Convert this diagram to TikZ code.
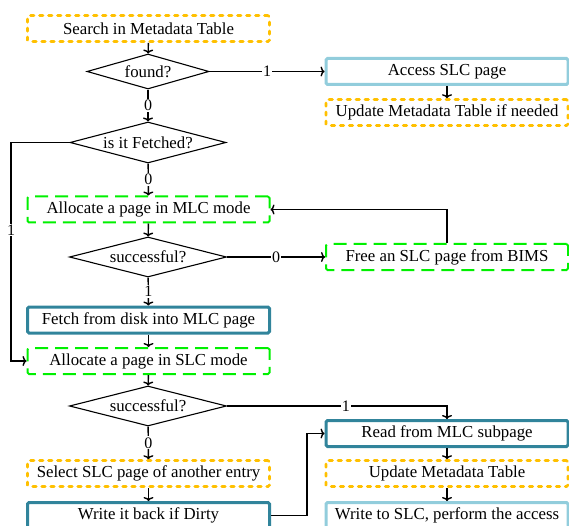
\documentclass[tikz,border=0pt]{standalone}
\usepackage{fontspec}
\setmainfont{Liberation Serif}
\usetikzlibrary{shapes.geometric,arrows.meta}
\definecolor{orng}{HTML}{FFC000}
\definecolor{lgreen}{HTML}{00F000}
\definecolor{teal2}{HTML}{31849B}
\definecolor{lblue}{HTML}{92CDDC}
\tikzset{
  base/.style={rectangle, rounded corners=1.5pt, minimum width=242pt, minimum height=26pt, inner sep=0pt, font=\fontsize{16.8}{18}\selectfont},
  orbox/.style={base, draw=orng, line width=2.6pt, dash pattern=on 3.5pt off 5.5pt, line cap=round},
  grbox/.style={base, draw=lgreen, line width=2pt, dash pattern=on 13pt off 7pt},
  tlbox/.style={base, draw=teal2, line width=3pt},
  lbbox/.style={base, draw=lblue, line width=3pt},
  dia/.style={diamond, draw, line width=1.1pt, inner sep=0pt, font=\fontsize{16.8}{18}\selectfont},
  arr/.style={-{To[length=4pt,width=10pt]}, line width=1.4pt},
  lab/.style={fill=white, inner sep=1pt, font=\fontsize{16}{18}\selectfont},
}
\begin{document}
\begin{tikzpicture}[x=1pt,y=-1pt]
\useasboundingbox (0,0) rectangle (569,526);
\clip (0,0) rectangle (569,526);
\node[orbox] (search) at (148.5,28.5) {Search in Metadata Table};
\node[dia, minimum width=122pt, minimum height=35pt, aspect=3.5] (found) at (148,71.5) {found?};
\node[lbbox] (access) at (447,71.5) {Access SLC page};
\node[orbox] (upd1) at (447,112.5) {Update Metadata Table if needed};
\node[dia, minimum width=156pt, minimum height=41pt, aspect=3.8] (fetched) at (148,142.5) {is it Fetched?};
\node[grbox] (allocmlc) at (148.5,209.5) {Allocate a page in MLC mode};
\node[dia, minimum width=157pt, minimum height=40pt, aspect=3.9] (succ1) at (148,257) {successful?};
\node[grbox] (free) at (447,257) {Free an SLC page from BIMS};
\node[tlbox] (fetch) at (148.5,320) {Fetch from disk into MLC page};
\node[grbox] (allocslc) at (148.5,361) {Allocate a page in SLC mode};
\node[dia, minimum width=157pt, minimum height=40pt, aspect=3.9] (succ2) at (148,406) {successful?};
\node[orbox] (select) at (148.5,473.5) {Select SLC page of another entry};
\node[tlbox] (wback) at (148.5,515.5) {Write it back if Dirty};
\node[tlbox] (read) at (447,433.5) {Read from MLC subpage};
\node[orbox] (upd2) at (447,473.5) {Update Metadata Table};
\node[lbbox] (wslc) at (447,515.5) {Write to SLC, perform the access};
\coordinate (lft) at (11,142.5);
\coordinate (lft2) at (11,361);
\coordinate (mid) at (307,515.5);

\draw[arr] (search) -- (found);
\draw[arr] (found) -- node[lab] {1} (access);
\draw[arr] (access) -- (upd1);
\draw[arr] (found) -- node[lab] {0} (fetched);
\draw[arr] (fetched.west) -- (lft) -- node[lab, pos=0.4] {1} (lft2) -- (allocslc.west);
\draw[arr] (fetched) -- node[lab] {0} (allocmlc);
\draw[arr] (allocmlc) -- (succ1);
\draw[arr] (succ1) -- node[lab] {0} (free);
\draw[arr] (free.north) |- (allocmlc.east);
\draw[arr] (succ1) -- node[lab] {1} (fetch);
\draw[arr] (fetch) -- (allocslc);
\draw[arr] (allocslc) -- (succ2);
\draw[arr] (succ2.east) -| node[lab, pos=0.27] {1} (read.north);
\draw[arr] (succ2) -- node[lab] {0} (select);
\draw[arr] (select) -- (wback);
\draw[arr] (wback.east) -- (mid) |- (read.west);
\draw[arr] (read) -- (upd2);
\draw[arr] (upd2) -- (wslc);
\end{tikzpicture}
\end{document}
